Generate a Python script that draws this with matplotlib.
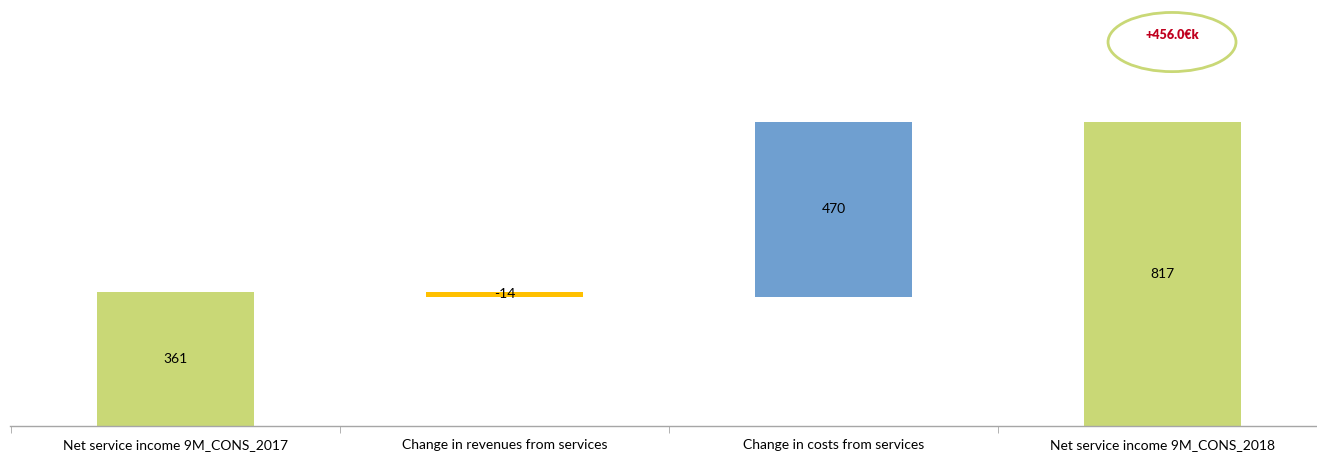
import matplotlib.pyplot as plt
import numpy as np
from matplotlib.patches import Ellipse

categories = ["Net service income 9M_CONS_2017", "Change in revenues from services",
              "Change in costs from services", "Net service income 9M_CONS_2018"]
values = [361, -14, 470, 817]
kinds = ["total", "delta", "delta", "total"]
delta_label = "+456.0€k"

colors = {"total": "#C9D876", "neg": "#FFC000", "pos": "#6F9FD0"}

plt.rcParams['font.family'] = ['Lato', 'DejaVu Sans']

fig = plt.figure(figsize=(13.17, 4.53), dpi=100)
ax = fig.add_axes([10/1317, 27/453, 1 - 10/1317, 426/453])

x = np.arange(len(categories))
running = 0
for i, (v, k) in enumerate(zip(values, kinds)):
        if k == "total":
                bottom, height = 0, v
                running = v
                c = colors["total"]
        else:
                bottom, height = running, v
                running += v
                c = colors["pos"] if v > 0 else colors["neg"]
        ax.bar(i, height, bottom=bottom, width=0.477, color=c, zorder=2)
        mid = bottom + height / 2
        ax.text(i, mid, str(v), ha="center", va="center", fontsize=10, color="black", zorder=3)

#Difference bubble above the last bar
ax.add_patch(Ellipse((3.029, 1032), 0.389, 159, facecolor="none",
                     edgecolor="#C9D876", linewidth=2, zorder=4))
ax.text(3.029, 1052, delta_label, ha="center", va="center", fontsize=9,
        fontweight="heavy", color="#C0001F", zorder=5)

ax.set_xlim(-0.503, (1317 - 10) / 329 - 0.503)
ax.set_ylim(0, 1145)

for s in ["left", "right", "top"]:
        ax.spines[s].set_visible(False)
ax.spines["bottom"].set_color("#A6A6A6")
ax.spines["bottom"].set_linewidth(1)

ax.set_yticks([])
ax.set_xticks(x)
ax.set_xticklabels(categories, fontsize=10)
ax.tick_params(axis="x", which="major", length=0, pad=9.5)
ax.set_xticks(np.arange(-0.5, 3.5, 1), minor=True)
ax.tick_params(axis="x", which="minor", length=5, color="#A6A6A6", direction="out")

fig.savefig("out.png", dpi=100)
